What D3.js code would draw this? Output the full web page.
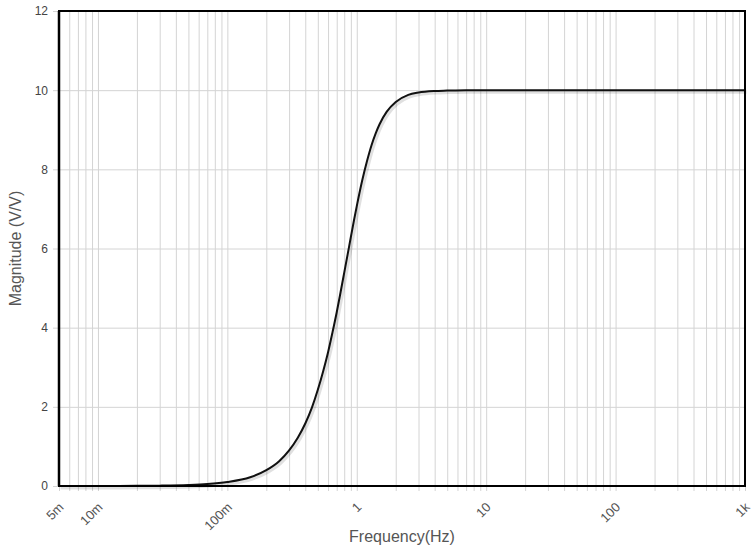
<!DOCTYPE html>
<html>
<head>
<meta charset="utf-8">
<script src="https://cdn.jsdelivr.net/npm/d3@7"></script>
<style>
  body { margin: 0; background: #fff; }
  svg { font-family: "Liberation Sans", Arial, sans-serif; }
</style>
</head>
<body>
<svg id="chart" width="756" height="556"></svg>
<script>
// frequency (Hz) and magnitude (V/V)
var freqs = [0.005, 0.01, 0.02, 0.03, 0.05, 0.07, 0.1, 0.15, 0.2, 0.25, 0.3, 0.35, 0.4, 0.45, 0.5, 0.55, 0.6, 0.65, 0.7, 0.75, 0.8, 0.85, 0.9, 0.95, 1, 1.1, 1.2, 1.3, 1.4, 1.5, 1.7, 2, 2.5, 3, 4, 5, 7, 10, 20, 50, 100, 1000];
var magnitude = [0, 0.001, 0.004, 0.009, 0.025, 0.049, 0.1, 0.22, 0.4, 0.62, 0.9, 1.22, 1.58, 1.98, 2.43, 2.9, 3.38, 3.89, 4.39, 4.9, 5.39, 5.85, 6.29, 6.7, 7.07, 7.71, 8.21, 8.61, 8.91, 9.14, 9.45, 9.7, 9.88, 9.94, 9.98, 9.99, 10, 10, 10, 10, 10, 10];
var xTickVals = [0.005, 0.01, 0.1, 1, 10, 100, 1000];
var xTickLabels = ['5m', '10m', '100m', '1', '10', '100', '1k'];
var yTicks = [0, 2, 4, 6, 8, 10, 12];

var margin = {top: 11, right: 11, bottom: 70, left: 59};
var svg = d3.select('#chart');
var W = +svg.attr('width'), H = +svg.attr('height');
var w = W - margin.left - margin.right, h = H - margin.top - margin.bottom;

var x = d3.scaleLog().domain([0.005, 1000]).range([0, w]);
var y = d3.scaleLinear().domain([0, 12]).range([h, 0]);

var g = svg.append('g').attr('transform', 'translate(' + margin.left + ',' + margin.top + ')');

// minor grid: 1..9 per decade
var gridVals = [];
for (var e = -3; e <= 3; e++) {
  for (var m = 1; m <= 9; m++) {
    var v = m * Math.pow(10, e);
    if (v >= 0.005 - 1e-9 && v <= 1000 + 1e-9) gridVals.push(+v.toPrecision(3));
  }
}

g.append('g')
  .attr('class', 'xgrid')
  .attr('transform', 'translate(0,' + h + ')')
  .call(d3.axisBottom(x).tickValues(gridVals).tickSize(-h - 5).tickFormat(''))
  .call(function(s){
    s.select('.domain').remove();
    s.selectAll('line').attr('stroke', '#d4d4d4').attr('transform', 'translate(0,5)');
  });

g.append('g')
  .attr('class', 'ygrid')
  .call(d3.axisLeft(y).tickValues(yTicks).tickSize(-w - 6).tickFormat(''))
  .call(function(s){
    s.select('.domain').remove();
    s.selectAll('line').attr('stroke', '#d4d4d4').attr('transform', 'translate(-6,0)');
  });

// tick labels
var xAxis = g.append('g')
  .attr('transform', 'translate(0,' + h + ')')
  .call(d3.axisBottom(x).tickValues(xTickVals).tickSize(0)
    .tickFormat(function(d, i){ return xTickLabels[i]; }));
xAxis.select('.domain').remove();
xAxis.selectAll('text')
  .attr('fill', '#555')
  .style('font-size', '13px')
  .attr('text-anchor', 'end')
  .attr('dy', null)
  .attr('y', 0)
  .attr('transform', 'translate(5,22) rotate(-45)');

var yAxis = g.append('g')
  .call(d3.axisLeft(y).tickValues(yTicks).tickSize(0).tickPadding(11));
yAxis.select('.domain').remove();
yAxis.selectAll('text').attr('fill', '#444').style('font-size', '12px');

// curve
var line = d3.line()
  .x(function(d){ return x(d[0]); })
  .y(function(d){ return y(d[1]); })
  .curve(d3.curveMonotoneX);
var pts = freqs.map(function(f, i){ return [f, magnitude[i]]; });

g.append('path').datum(pts)
  .attr('d', line)
  .attr('fill', 'none')
  .attr('stroke', 'rgba(0,0,0,0.12)')
  .attr('stroke-width', 4)
  .attr('transform', 'translate(1.5,1.5)');
g.append('path').datum(pts)
  .attr('d', line)
  .attr('fill', 'none')
  .attr('stroke', '#111')
  .attr('stroke-width', 2);

// frame
g.append('rect')
  .attr('width', w).attr('height', h)
  .attr('fill', 'none')
  .attr('stroke', '#000')
  .attr('stroke-width', 2);
g.append('line')
  .attr('x1', 0).attr('x2', 0).attr('y1', 0).attr('y2', h)
  .attr('stroke', '#000').attr('stroke-width', 2.5);

// titles
svg.append('text')
  .attr('x', margin.left + w / 2)
  .attr('y', 542)
  .attr('text-anchor', 'middle')
  .attr('fill', '#555')
  .style('font-size', '16px')
  .text('Frequency(Hz)');

svg.append('text')
  .attr('transform', 'translate(21,' + (margin.top + h / 2) + ') rotate(-90)')
  .attr('text-anchor', 'middle')
  .attr('fill', '#555')
  .style('font-size', '16px')
  .text('Magnitude (V/V)');
</script>
</body>
</html>
